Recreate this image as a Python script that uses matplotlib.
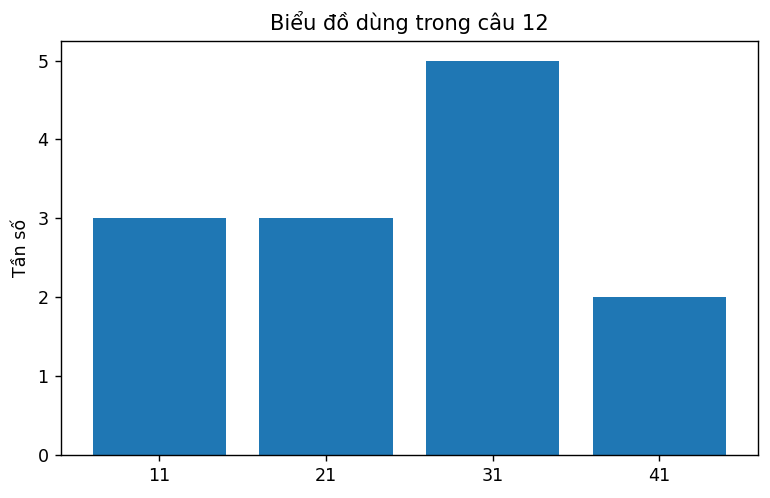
import matplotlib
matplotlib.use("Agg")
import matplotlib.pyplot as plt

labels = ["11", "21", "31", "41"]
freqs = [3, 3, 5, 2]

dpi = 126
fig = plt.figure(figsize=(770 / dpi, 498 / dpi), dpi=dpi)
ax = fig.add_axes([0.079, 0.086, 0.905, 0.832])
ax.bar(labels, freqs)
ax.set_ylabel("Tần số")
ax.set_title("Biểu đồ dùng trong câu 12")

fig.savefig("out.png", dpi=dpi)
